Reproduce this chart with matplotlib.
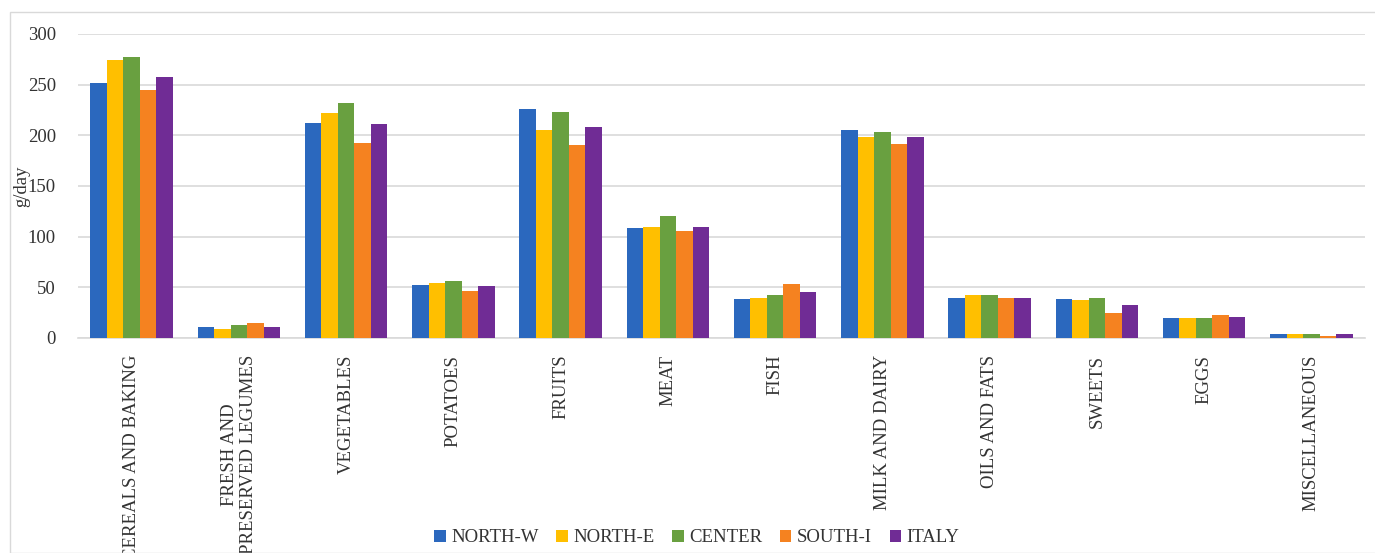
import matplotlib
matplotlib.use("Agg")
import matplotlib.pyplot as plt
import numpy as np
from matplotlib.patches import Rectangle

categories = ["CEREALS AND BAKING", "FRESH AND\nPRESERVED LEGUMES", "VEGETABLES", "POTATOES",
              "FRUITS", "MEAT", "FISH", "MILK AND DAIRY", "OILS AND FATS", "SWEETS", "EGGS",
              "MISCELLANEOUS"]
series_names = ["NORTH-W", "NORTH-E", "CENTER", "SOUTH-I", "ITALY"]
north_w = [251.4, 10.8, 212.4, 52.2, 225.9, 109.0, 38.4, 205.2, 39.4, 38.4, 19.7, 3.6]
north_e = [274.4, 8.6, 222.5, 53.9, 205.2, 110.0, 39.4, 198.3, 42.0, 37.1, 19.7, 3.6]
center = [277.0, 13.2, 231.7, 55.8, 223.5, 120.5, 42.0, 202.9, 42.0, 39.4, 19.7, 3.6]
south_i = [244.6, 14.5, 192.7, 46.7, 190.0, 105.3, 53.6, 191.4, 39.4, 24.6, 22.3, 2.3]
italy = [257.3, 10.8, 211.1, 51.2, 207.8, 110.0, 45.3, 198.3, 39.4, 32.9, 21.0, 3.9]
yticks = [0, 50, 100, 150, 200, 250, 300]

colors = ["#2B68BE", "#FFBF00", "#69A040", "#F58220", "#702C95"]

plt.rcParams['font.family'] = ['Liberation Serif', 'DejaVu Serif']

W, H = 1375, 553
fig = plt.figure(figsize=(W / 100, H / 100), dpi=100)
fig.patches.append(Rectangle((10 / W, 0), 1.2, 1 - 12 / H, transform=fig.transFigure,
                             fill=False, edgecolor="#d9d9d9", linewidth=1.0))

ax = fig.add_axes([78 / W, 1 - 338 / H, (1365 - 78) / W, (338 - 34) / H])
x = np.arange(len(categories))
bw = 0.77 / 5
all_series = [north_w, north_e, center, south_i, italy]
for i, (name, vals) in enumerate(zip(series_names, all_series)):
    ax.bar(x + (i - 2) * bw, vals, width=bw, color=colors[i], label=name, zorder=3)

ax.set_xlim(-0.5, len(categories) - 0.5)
ax.set_ylim(0, 300)
ax.set_yticks(yticks)
ax.yaxis.grid(True, color="#d9d9d9", linewidth=1.2, zorder=0)
ax.set_axisbelow(True)
for s in ["top", "right", "left"]:
    ax.spines[s].set_visible(False)
ax.spines["bottom"].set_color("#d9d9d9")
ax.spines["bottom"].set_linewidth(1.2)
ax.tick_params(axis="both", length=0, labelsize=13.5, colors="#333333")
ax.tick_params(axis="y", pad=16)
ax.set_xticks(x)
ax.set_xticklabels(categories, rotation=90, ha="center", va="top", fontsize=13.5,
                   multialignment="center")
ax.tick_params(axis="x", pad=12)
ax.set_ylabel("g/day", fontsize=13.5, color="#333333")
ax.yaxis.set_label_coords(-0.0373, 0.5)

fig.legend(loc="center", bbox_to_anchor=(697 / W, 1 - 538 / H), ncol=5, frameon=False,
           fontsize=13.5, handlelength=0.6, handleheight=0.6, handletextpad=0.3,
           columnspacing=0.95, labelcolor="#333333")

fig.savefig("out.png", dpi=100)
